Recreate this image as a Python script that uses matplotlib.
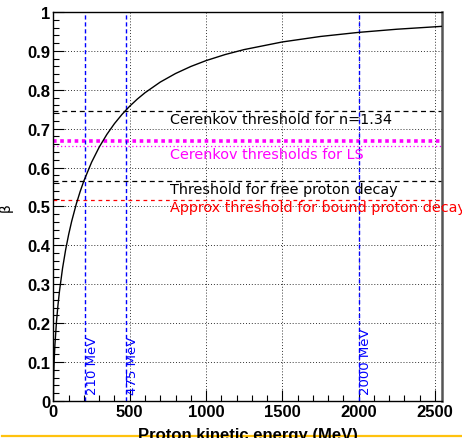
import numpy as np
import matplotlib.pyplot as plt
from matplotlib.lines import Line2D
from matplotlib.ticker import MultipleLocator

# --------------------------------------------------
# Data
# --------------------------------------------------

# proton kinetic energy (MeV) and velocity beta
t_kin = [0, 1, 2.5, 5, 10, 20, 30, 40, 60, 80, 100, 120, 150, 175, 200, 250,
         300, 350, 400, 450, 500, 550, 600, 700, 800, 900, 1000, 1125, 1250,
         1500, 1750, 2000, 2250, 2546]
beta = [0.0, 0.0461, 0.0729, 0.1028, 0.1448, 0.2032, 0.2470, 0.2830, 0.3415,
        0.3885, 0.4282, 0.4625, 0.5066, 0.5382, 0.5662, 0.6136, 0.6526, 0.6852,
        0.7131, 0.7370, 0.7579, 0.7762, 0.7924, 0.8198, 0.8418, 0.8599, 0.8750,
        0.8906, 0.9034, 0.9230, 0.9371, 0.9476, 0.9557, 0.9631]

# horizontal thresholds (beta)
beta_cerenkov_water = 0.746
beta_cerenkov_ls = [0.669, 0.656]
beta_free_decay = 0.565
beta_bound_decay = 0.517

# vertical markers (MeV)
energy_marks = [210, 475, 2000]
energy_labels = ["210 MeV", "475 MeV", "2000 MeV"]

x_max = 2546

# --------------------------------------------------
# Figure
# --------------------------------------------------

plt.rcParams["font.family"] = "Liberation Sans"
plt.rcParams["font.weight"] = "bold"

fig = plt.figure(figsize=(4.62, 4.39), dpi=100)
ax = fig.add_axes([0.1156, 0.0843, 0.8411, 0.8861])

ax.set_xlim(0, x_max)
ax.set_ylim(0, 1)

# grid
ax.grid(True, which="major", linestyle=(0, (1, 2)), color="black",
        linewidth=0.7, alpha=0.8)

# beta curve
ax.plot(t_kin, beta, color="black", linewidth=1.0, zorder=5)

# thresholds
ax.axhline(beta_cerenkov_water, color="black", linestyle=(0, (4, 3)), linewidth=0.9)
ax.axhline(beta_cerenkov_ls[0], color="magenta", linestyle=(0, (1, 1)), linewidth=2.6)
ax.axhline(beta_cerenkov_ls[1], color="magenta", linestyle=(0, (1, 2)), linewidth=0.9)
ax.axhline(beta_free_decay, color="black", linestyle=(0, (4, 3)), linewidth=0.9)
ax.axhline(beta_bound_decay, color="red", linestyle=(0, (3, 3)), linewidth=0.9)

for e, lab in zip(energy_marks, energy_labels):
    ax.axvline(e, color="blue", linestyle=(0, (3, 2)), linewidth=1.0)
    ax.text(e + 44, 0.018, lab, rotation=90, color="blue", fontsize=9.5,
            ha="center", va="bottom", family="DejaVu Sans", fontweight="normal")

# labels in plot
txt = dict(fontsize=10.4, family="DejaVu Sans", fontweight="normal",
           va="baseline", ha="left", clip_on=False)
ax.text(764, 0.715, "Cerenkov threshold for n=1.34", color="black", **txt)
ax.text(764, 0.625, "Cerenkov thresholds for LS", color="magenta", **txt)
ax.text(764, 0.535, "Threshold for free proton decay", color="black", **txt)
ax.text(764, 0.488, "Approx threshold for bound proton decay", color="red", **txt)

# --------------------------------------------------
# Axes style (ROOT-like)
# --------------------------------------------------

ax.xaxis.set_major_locator(MultipleLocator(500))
ax.xaxis.set_minor_locator(MultipleLocator(100))
ax.yaxis.set_major_locator(MultipleLocator(0.1))
ax.yaxis.set_minor_locator(MultipleLocator(0.02))
ax.yaxis.set_major_formatter(plt.FuncFormatter(
    lambda v, p: "0" if abs(v) < 1e-9 else ("1" if abs(v - 1) < 1e-9 else f"{v:.1f}")))

ax.tick_params(which="both", direction="in", top=False, right=False,
               color="black", width=0.8)
ax.tick_params(which="major", length=8, labelsize=12, pad=2)
ax.tick_params(which="minor", length=4)

for side in ["left", "bottom", "top"]:
    ax.spines[side].set_linewidth(1.0)
ax.spines["right"].set_linewidth(1.8)
ax.spines["right"].set_color("#555555")

ax.set_ylabel("β", fontsize=10, rotation=90, family="DejaVu Sans",
              fontweight="normal")
ax.yaxis.set_label_coords(-0.105, 0.5)

fig.text(0.5 * (0.1156 + 0.9567), 0.025, "Proton kinetic energy (MeV)",
         ha="center", va="top", fontsize=12, fontweight="bold")

# orange strip at the bottom of the screenshot
fig.add_artist(Line2D([0.005, 1.0], [0.004, 0.004], transform=fig.transFigure,
                      color="#FFC20E", linewidth=1.6))

fig.savefig("out.png", dpi=100)
